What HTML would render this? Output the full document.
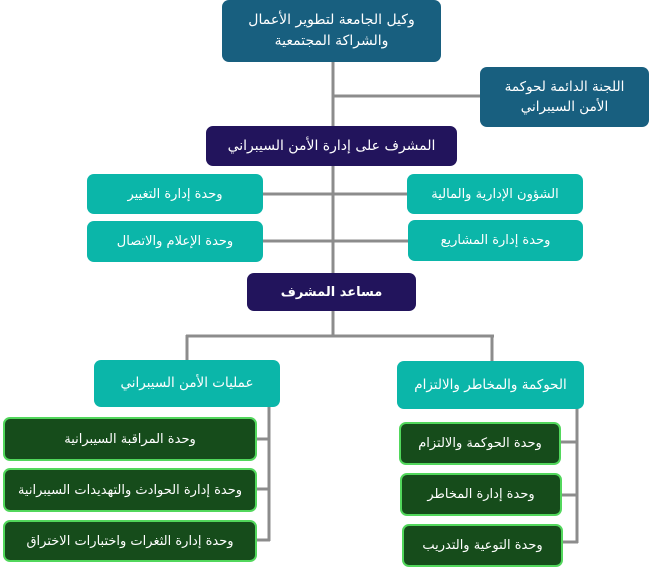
<!DOCTYPE html>
<html><head><meta charset="utf-8"><style>
html,body{margin:0;padding:0;background:#fff;}
body{width:650px;height:568px;position:relative;overflow:hidden;font-family:"DejaVu Sans","Liberation Sans",sans-serif;}
.b{position:absolute;box-sizing:border-box;display:flex;align-items:center;justify-content:center;text-align:center;color:#fff;direction:rtl;font-size:13px;line-height:19px;border-radius:7px;}
.blue{background:#185f7f;}
.purple{background:#22145c;}
.cyan{background:#0bb6a9;}
.green{background:#164c1b;border:2.5px solid #52d75c;border-radius:7px;}
svg{position:absolute;left:0;top:0;}
</style></head><body>
<svg width="650" height="568">
<g stroke="#8c8c8c" stroke-width="3" fill="none">
<line x1="333" y1="60" x2="333" y2="337"/>
<line x1="333" y1="96" x2="482" y2="96"/>
<line x1="262" y1="194" x2="408" y2="194"/>
<line x1="262" y1="241" x2="409" y2="241"/>
<line x1="186" y1="336" x2="494" y2="336"/>
<line x1="187" y1="335" x2="187" y2="361"/>
<line x1="492" y1="335" x2="492" y2="362"/>
<line x1="269" y1="406" x2="269" y2="541"/>
<line x1="255" y1="439" x2="270" y2="439"/>
<line x1="255" y1="489" x2="270" y2="489"/>
<line x1="255" y1="540" x2="270" y2="540"/>
<line x1="577" y1="408" x2="577" y2="543"/>
<line x1="560" y1="442" x2="578" y2="442"/>
<line x1="560" y1="495" x2="578" y2="495"/>
<line x1="561" y1="542" x2="578" y2="542"/>
</g>
</svg>
<div class="b blue" style="left:222px;top:0;width:219px;height:62px;font-size:14px;line-height:21px;">وكيل الجامعة لتطوير الأعمال<br>والشراكة المجتمعية</div>
<div class="b blue" style="left:480px;top:67px;width:169px;height:60px;font-size:13.5px;line-height:20px;">اللجنة الدائمة لحوكمة<br>الأمن السيبراني</div>
<div class="b purple" style="left:206px;top:126px;width:251px;height:40px;font-size:14px;">المشرف على إدارة الأمن السيبراني</div>
<div class="b cyan" style="left:87px;top:174px;width:176px;height:40px;">وحدة إدارة التغيير</div>
<div class="b cyan" style="left:407px;top:174px;width:176px;height:40px;">الشؤون الإدارية والمالية</div>
<div class="b cyan" style="left:87px;top:221px;width:176px;height:41px;">وحدة الإعلام والاتصال</div>
<div class="b cyan" style="left:408px;top:220px;width:175px;height:41px;">وحدة إدارة المشاريع</div>
<div class="b purple" style="left:247px;top:273px;width:169px;height:38px;font-weight:bold;font-size:13px;">مساعد المشرف</div>
<div class="b cyan" style="left:94px;top:360px;width:186px;height:47px;font-size:13.5px;">عمليات الأمن السيبراني</div>
<div class="b cyan" style="left:397px;top:361px;width:187px;height:48px;font-size:13.5px;">الحوكمة والمخاطر والالتزام</div>
<div class="b green" style="left:3px;top:417px;width:254px;height:44px;">وحدة المراقبة السيبرانية</div>
<div class="b green" style="left:3px;top:468px;width:254px;height:44px;">وحدة إدارة الحوادث والتهديدات السيبرانية</div>
<div class="b green" style="left:3px;top:520px;width:254px;height:42px;">وحدة إدارة الثغرات واختبارات الاختراق</div>
<div class="b green" style="left:399px;top:422px;width:162px;height:43px;">وحدة الحوكمة والالتزام</div>
<div class="b green" style="left:400px;top:473px;width:162px;height:43px;">وحدة إدارة المخاطر</div>
<div class="b green" style="left:402px;top:524px;width:161px;height:43px;">وحدة التوعية والتدريب</div>
</body></html>
